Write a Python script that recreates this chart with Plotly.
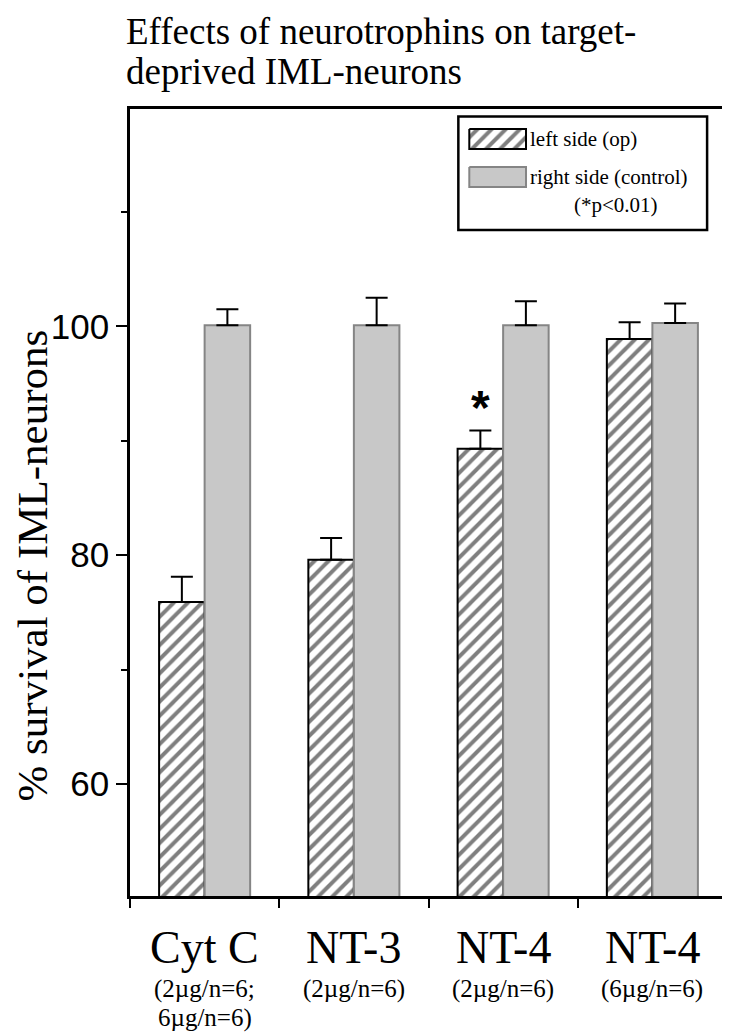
import plotly.graph_objects as go

# ---- data ----
categories = ["Cyt C", "NT-3", "NT-4", "NT-4"]
doses = [["(2µg/n=6;", "6µg/n=6)"], ["(2µg/n=6)"], ["(2µg/n=6)"], ["(6µg/n=6)"]]
left_vals = [75.9, 79.6, 89.3, 98.9]
left_err = [2.2, 1.9, 1.6, 1.45]
right_vals = [100.1, 100.1, 100.1, 100.3]
right_err = [1.4, 2.4, 2.1, 1.7]
significant = [False, False, True, False]
series_names = ["left side (op)", "right side (control)"]
note_text = "(*p<0.01)"
title_lines = ["Effects of neurotrophins on target-", "deprived IML-neurons"]
y_title = "% survival of IML-neurons"

# ---- styling ----
W, H = 730, 1032
ML, MR, MT, MB = 122, 8, 101, 144
GRAY = "#c8c8c8"
GRAY_LINE = "#858585"
SERIF = "Liberation Serif, Times New Roman, serif"
SANS = "Liberation Sans, Arial, sans-serif"
BARGAP = 0.39
hatch = dict(shape="/", fgcolor="black", bgcolor="white", size=10, solidity=0.4)

idx = list(range(len(categories)))
fig = go.Figure()
fig.add_trace(go.Bar(
    x=idx, y=left_vals, name=series_names[0], offsetgroup="L",
    marker=dict(color="white", pattern=hatch, line=dict(color="black", width=2)),
    error_y=dict(type="data", symmetric=False, array=left_err, arrayminus=[0] * len(idx),
                 color="black", thickness=2, width=11),
    showlegend=False,
))
fig.add_trace(go.Bar(
    x=idx, y=right_vals, name=series_names[1], offsetgroup="R",
    marker=dict(color=GRAY, line=dict(color=GRAY_LINE, width=2)),
    error_y=dict(type="data", symmetric=False, array=right_err, arrayminus=[0] * len(idx),
                 color="black", thickness=2, width=11),
    showlegend=False,
))

# paper-coordinate helpers (pixel -> paper)
PW, PH = W - ML - MR, H - MT - MB
def px(xp):
    return (xp - ML) / PW
def py(yp):
    return (H - MB - yp) / PH

# legend swatches drawn on an overlay axis spanning [0,1] (paper-like)
x0, x1 = px(463), px(520)
fig.add_trace(go.Scatter(
    x=[x0, x1, x1, x0, x0], y=[py(121), py(121), py(141), py(141), py(121)],
    xaxis="x2", yaxis="y2", mode="lines", fill="toself", fillcolor="white",
    fillpattern=hatch, line=dict(color="black", width=2), showlegend=False, hoverinfo="skip",
))
fig.add_trace(go.Scatter(
    x=[x0, x1, x1, x0, x0], y=[py(159), py(159), py(179), py(179), py(159)],
    xaxis="x2", yaxis="y2", mode="lines", fill="toself", fillcolor=GRAY,
    line=dict(color=GRAY_LINE, width=2), showlegend=False, hoverinfo="skip",
))

shapes = [dict(type="rect", xref="paper", yref="paper",
               x0=px(452), x1=px(702), y0=py(108.5), y1=py(222),
               line=dict(color="black", width=2.5), fillcolor="rgba(0,0,0,0)", layer="below")]

annotations = []
# legend texts
annotations.append(dict(xref="paper", yref="paper", x=px(522), y=py(131), xanchor="left",
                        yanchor="middle", text=series_names[0], showarrow=False,
                        font=dict(family=SERIF, size=21, color="black")))
annotations.append(dict(xref="paper", yref="paper", x=px(522), y=py(169), xanchor="left",
                        yanchor="middle", text=series_names[1], showarrow=False,
                        font=dict(family=SERIF, size=21, color="black")))
annotations.append(dict(xref="paper", yref="paper", x=px(610), y=py(197), xanchor="center",
                        yanchor="middle", text=note_text, showarrow=False,
                        font=dict(family=SERIF, size=21, color="black")))
# title, two lines
for k, (line, yc) in enumerate(zip(title_lines, [23, 64])):
    annotations.append(dict(xref="paper", yref="paper", x=px(116), y=py(yc), xanchor="left",
                            yanchor="middle", text=line, showarrow=False,
                            font=dict(family=SERIF, size=37, color="black")))
# y title
annotations.append(dict(xref="paper", yref="paper", x=px(24), y=py(557), xanchor="center",
                        yanchor="middle", text=y_title, textangle=-90, showarrow=False,
                        font=dict(family=SERIF, size=43, color="black")))
# category labels
for i, (c, d) in enumerate(zip(categories, doses)):
    annotations.append(dict(xref="x", yref="paper", x=i, y=py(939), xanchor="center",
                            yanchor="middle", text=c, showarrow=False,
                            font=dict(family=SERIF, size=46, color="black")))
    for j, line in enumerate(d):
        annotations.append(dict(xref="x", yref="paper", x=i, y=py(981 + 29 * j),
                                xanchor="center", yanchor="middle", text=line, showarrow=False,
                                font=dict(family=SERIF, size=25, color="black")))
# significance asterisk
bw = (1 - BARGAP) / 2
for i, s in enumerate(significant):
    if s:
        annotations.append(dict(xref="x", yref="y", x=i - bw / 2, y=left_vals[i] + left_err[i],
                                yshift=23, xanchor="center", yanchor="middle", text="<b>*</b>",
                                showarrow=False,
                                font=dict(family=SANS, size=48, color="black")))

fig.update_layout(
    width=W, height=H, margin=dict(l=ML, r=MR, t=MT, b=MB),
    paper_bgcolor="white", plot_bgcolor="white",
    barmode="group", bargap=BARGAP, bargroupgap=0,
    shapes=shapes, annotations=annotations,
    xaxis=dict(range=[-0.5, 3.5], tickmode="array", tickvals=idx, ticktext=[""] * len(idx),
               ticks="outside", ticklen=0, showgrid=False, zeroline=False,
               showline=True, linecolor="black", linewidth=2.5, mirror=True,
               minor=dict(tickmode="linear", tick0=-0.5, dtick=1, ticks="outside",
                          ticklen=9, tickwidth=2, tickcolor="black", showgrid=False)),
    yaxis=dict(range=[50.2, 119.0], tickmode="linear", tick0=0, dtick=20,
               ticks="outside", ticklen=11, tickwidth=2, tickcolor="black",
               showgrid=False, zeroline=False,
               showline=True, linecolor="black", linewidth=2.5, mirror=True,
               tickfont=dict(family=SANS, size=35, color="black"),
               minor=dict(tickmode="linear", tick0=0, dtick=10, ticks="outside",
                          ticklen=6, tickwidth=2, tickcolor="black", showgrid=False)),
    xaxis2=dict(overlaying="x", range=[0, 1], visible=False, fixedrange=True),
    yaxis2=dict(overlaying="y", range=[0, 1], visible=False, fixedrange=True),
)

fig.write_html("out.html")
